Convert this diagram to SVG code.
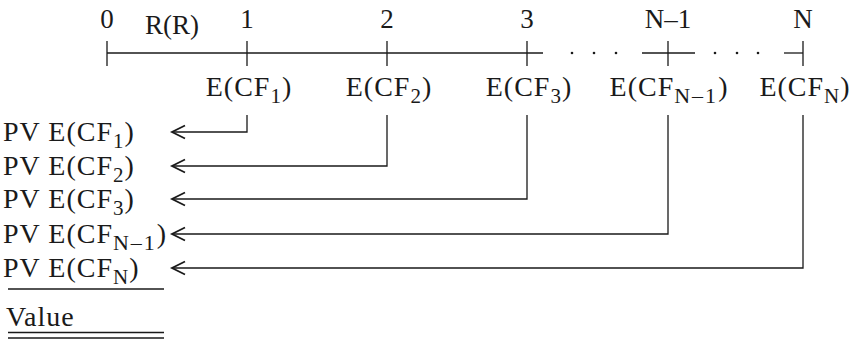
<svg xmlns="http://www.w3.org/2000/svg" width="857" height="341" viewBox="0 0 857 341">
<style>
text{font-family:"Liberation Serif","Times New Roman",serif;fill:#1a1a1a;}
.num{font-size:27px;text-anchor:middle;}
.lbl{font-size:28px;letter-spacing:1px;}
.mid{text-anchor:middle;}
.sub{font-size:21px;}
.wide{font-size:22px;letter-spacing:2px;}
.ln{stroke:#1a1a1a;stroke-width:1.3;fill:none;}
.arr{stroke:#1a1a1a;stroke-width:1.3;fill:none;marker-end:url(#ah);}
</style>
<defs>
<marker id="ah" markerUnits="userSpaceOnUse" markerWidth="20" markerHeight="20" refX="0" refY="0" orient="auto" overflow="visible" viewBox="-20 -10 20 20">
<path d="M-13,-6.5 L0,0 L-13,6.5" fill="none" stroke="#1a1a1a" stroke-width="1.8"/>
</marker>
</defs>
<rect width="857" height="341" fill="#fff"/>
<g id="connectors">
<g id="timeline">
<line class="ln" x1="107" y1="53" x2="543" y2="53"/>
<line class="ln" x1="107" y1="41" x2="107" y2="66"/>
<line class="ln" x1="247" y1="41" x2="247" y2="66"/>
<line class="ln" x1="387" y1="41" x2="387" y2="66"/>
<line class="ln" x1="527" y1="41" x2="527" y2="66"/>
<line class="ln" x1="642" y1="53" x2="695" y2="53"/>
<line class="ln" x1="668" y1="41" x2="668" y2="66"/>
<line class="ln" x1="784" y1="53" x2="803" y2="53"/>
<line class="ln" x1="803" y1="41" x2="803" y2="66"/>
<g fill="#1a1a1a">
<circle cx="572" cy="53" r="1.3"/><circle cx="594" cy="53" r="1.3"/><circle cx="616" cy="53" r="1.3"/>
<circle cx="715" cy="53" r="1.3"/><circle cx="737" cy="53" r="1.3"/><circle cx="758" cy="53" r="1.3"/>
</g>
</g>
<path id="c1" class="arr" d="M247,115 V132 H172"/>
<path id="c2" class="arr" d="M387,115 V166 H172"/>
<path id="c3" class="arr" d="M527,115 V199 H172"/>
<path id="c4" class="arr" d="M668,115 V234 H172"/>
<path id="c5" class="arr" d="M803,115 V268 H172"/>
</g>
<g id="period-labels">
<text class="num" x="107" y="28">0</text>
<text class="num" x="172" y="34">R(R)</text>
<text class="num" x="247" y="28">1</text>
<text class="num" x="387" y="28">2</text>
<text class="num" x="527" y="28">3</text>
<text class="num" x="668" y="28">N–1</text>
<text class="num" x="803" y="28">N</text>
</g>
<g id="cf1"><text class="lbl mid" x="249" y="96">E(CF<tspan class="sub" dy="7">1</tspan><tspan dy="-7">)</tspan></text></g>
<g id="cf2"><text class="lbl mid" x="389" y="96">E(CF<tspan class="sub" dy="7">2</tspan><tspan dy="-7">)</tspan></text></g>
<g id="cf3"><text class="lbl mid" x="529" y="96">E(CF<tspan class="sub" dy="7">3</tspan><tspan dy="-7">)</tspan></text></g>
<g id="cfn1"><text class="lbl mid" x="669" y="96">E(CF<tspan class="wide" dy="7">N–1</tspan><tspan dy="-7">)</tspan></text></g>
<g id="cfn"><text class="lbl mid" x="805" y="96">E(CF<tspan class="sub" dy="7">N</tspan><tspan dy="-7">)</tspan></text></g>
<g id="pv1"><text class="lbl" x="3" y="141">PV E(CF<tspan class="sub" dy="7">1</tspan><tspan dy="-7">)</tspan></text></g>
<g id="pv2"><text class="lbl" x="3" y="175">PV E(CF<tspan class="sub" dy="7">2</tspan><tspan dy="-7">)</tspan></text></g>
<g id="pv3"><text class="lbl" x="3" y="208">PV E(CF<tspan class="sub" dy="7">3</tspan><tspan dy="-7">)</tspan></text></g>
<g id="pvn1"><text class="lbl" x="3" y="243">PV E(CF<tspan class="wide" dy="7">N–1</tspan><tspan dy="-7">)</tspan></text></g>
<g id="pvn"><text class="lbl" x="3" y="277">PV E(CF<tspan class="sub" dy="7">N</tspan><tspan dy="-7">)</tspan></text></g>
<g id="total">
<line class="ln" x1="8" y1="289" x2="164" y2="289"/>
<text class="lbl" x="6" y="326">Value</text>
<line class="ln" x1="8" y1="332.5" x2="164" y2="332.5"/>
<line class="ln" x1="8" y1="338" x2="164" y2="338"/>
</g>
</svg>
